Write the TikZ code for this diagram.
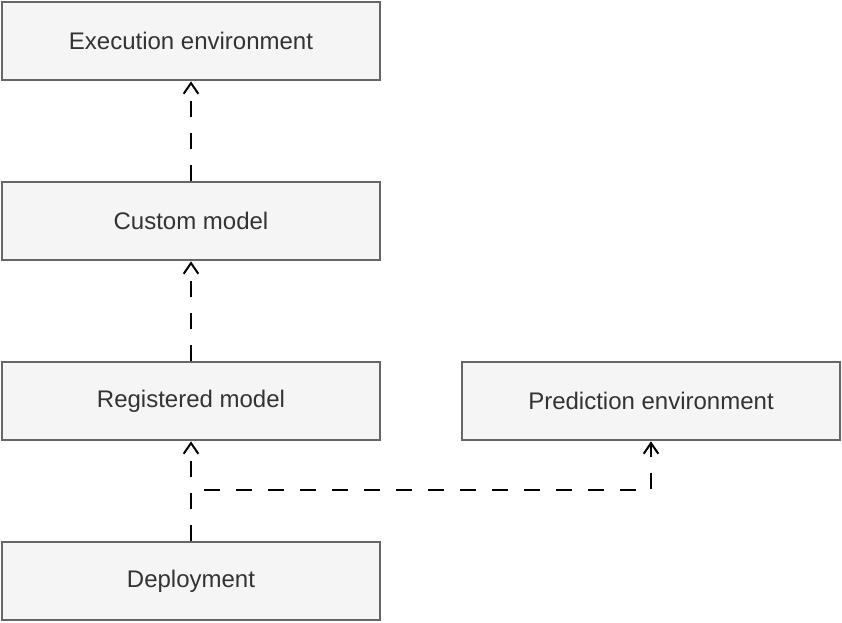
\documentclass[tikz,border=0pt]{standalone}
\usepackage{fontspec}
\setmainfont{Liberation Sans}
\usetikzlibrary{arrows.meta}
\definecolor{boxfill}{HTML}{F5F5F5}
\definecolor{boxline}{HTML}{666666}
\definecolor{boxtext}{HTML}{333333}
\begin{document}
\begin{tikzpicture}
[x=0.75pt,y=-0.75pt]
\tikzset{blk/.style={draw=boxline,fill=boxfill,line width=1.5pt,minimum width=284pt,minimum height=59pt,inner sep=0pt,text=boxtext,font=\fontsize{18}{21}\selectfont}}
\tikzset{dep/.style={draw,line width=1.5pt,dash pattern=on 12pt off 12pt,-{Straight Barb[length=8pt,width=11pt,line width=1.5pt]}}}
\useasboundingbox (0,0) rectangle (842,622);
\node [blk] (exec) at (191,41) {Execution environment};
\node [blk] (cust) at (191,221) {Custom model};
\node [blk] (reg) at (191,401) {Registered model};
\node [blk] (pred) at (651,401) {Prediction environment};
\node [blk] (depl) at (191,581) {Deployment};

\foreach \from/\to in {cust/exec,reg/cust,depl/reg}
	\draw [dep] (\from.north) -- (\to.south);
\draw [dep] (depl.north) |- (651,490) -- (pred.south);

\end{tikzpicture}
\end{document}
